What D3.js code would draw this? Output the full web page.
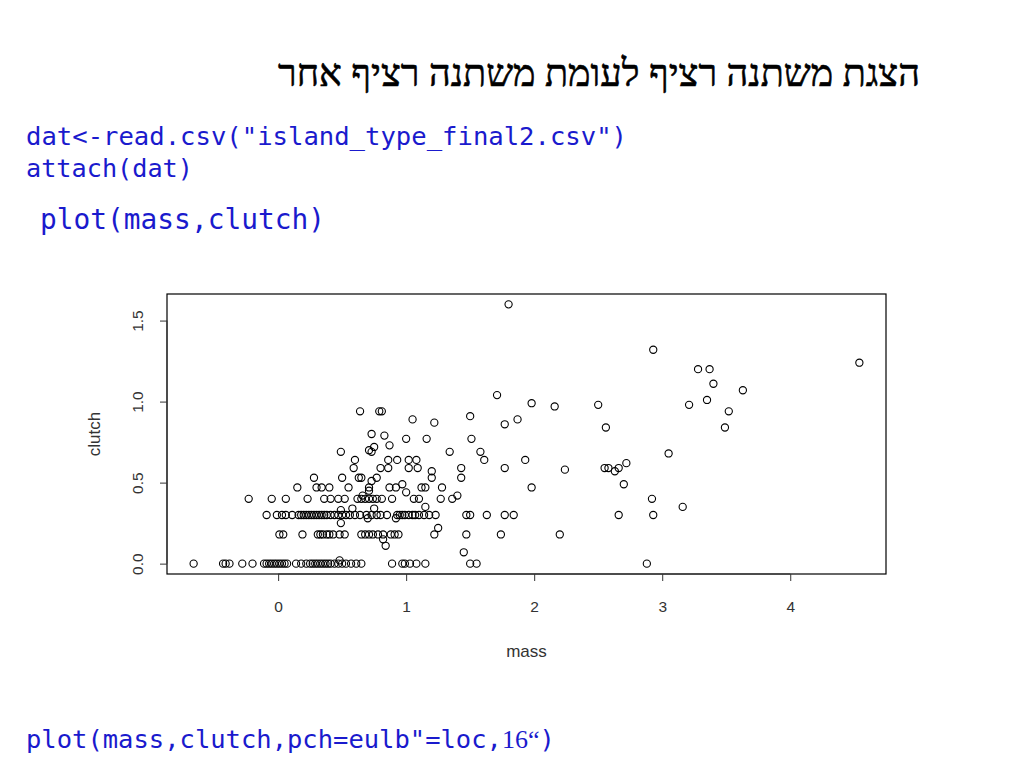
<!DOCTYPE html>
<html>
<head>
<meta charset="utf-8">
<script src="https://cdn.jsdelivr.net/npm/d3@7"></script>
<style>
  html, body { margin: 0; padding: 0; background: #ffffff; }
  svg { display: block; }
</style>
</head>
<body>
<svg id="chart" width="1024" height="768"></svg>
<script>
// ---- text ----
const titleText = "הצגת משתנה רציף לעומת משתנה רציף אחר";
const codeLines = ['dat<-read.csv("island_type_final2.csv")', 'attach(dat)'];
const plotCall = ' plot(mass,clutch)';
const bottomCallMono = 'plot(mass,clutch,pch=eulb"=loc,';
const bottomCallSerif = '16“';
const bottomCallEnd = ')';
const xLabel = "mass";
const yLabel = "clutch";
const xTicks = [0, 1, 2, 3, 4];
const yTicks = [0, 0.5, 1.0, 1.5];

// ---- data: rows of points sharing a clutch value ----
const clutchRows = [0, 0.18, 0.30, 0.40, 0.47];
const massRow0 = [-0.66, -0.43, -0.41, -0.38, -0.28, -0.20, -0.11, -0.09, -0.07, -0.05, -0.03, -0.01,
  0.01, 0.03, 0.05, 0.07, 0.14, 0.18, 0.22, 0.25, 0.27, 0.29, 0.31, 0.33, 0.35, 0.37, 0.39, 0.41,
  0.44, 0.47, 0.50, 0.53, 0.57, 0.61, 0.65, 0.89, 0.97, 0.99, 1.03, 1.08, 1.15, 1.50, 1.55, 2.88];
const massRow018 = [0.01, 0.04, 0.19, 0.31, 0.33, 0.35, 0.38, 0.40, 0.43, 0.48, 0.52, 0.65, 0.68,
  0.71, 0.74, 0.78, 0.82, 0.88, 0.91, 0.94, 1.22, 1.47, 1.74, 2.20];
const massRow030 = [-0.09, -0.01, 0.03, 0.06, 0.11, 0.16, 0.18, 0.20, 0.22, 0.24, 0.26, 0.28, 0.30,
  0.32, 0.34, 0.36, 0.38, 0.41, 0.44, 0.47, 0.50, 0.53, 0.56, 0.60, 0.64, 0.69, 0.73, 0.77, 0.80,
  0.85, 0.93, 0.95, 0.97, 0.99, 1.02, 1.05, 1.07, 1.10, 1.14, 1.18, 1.23, 1.47, 1.50, 1.63, 1.77,
  1.84, 2.66, 2.93];
const massRow040 = [-0.23, -0.05, 0.06, 0.23, 0.36, 0.41, 0.47, 0.52, 0.62, 0.65, 0.68, 0.71, 0.74,
  0.77, 0.81, 0.89, 1.06, 1.10, 1.27, 1.36, 2.92];
const massRow047 = [0.15, 0.30, 0.34, 0.40, 0.55, 0.71, 0.87, 0.92, 1.12, 1.15, 1.28, 1.98];

// ---- data: remaining scattered points ----
const otherMass = [1.40, 0.66, 0.97, 1.00, 0.71, 0.73,
  0.28, 0.50, 0.63, 0.65, 0.77, 1.20, 1.43,
  0.59, 0.80, 0.86, 1.02, 1.09, 1.20, 1.43, 1.77, 2.24, 2.55, 2.58, 2.63, 2.66, 2.72, 2.70,
  0.60, 0.86, 0.93, 1.02, 1.08, 1.61, 1.93,
  0.49, 0.71, 0.73, 0.75, 0.87, 1.34, 1.58, 3.05,
  0.73, 0.83, 1.00, 1.16, 1.51,
  0.64, 0.79, 0.81, 1.05, 1.22, 1.50, 1.77, 1.87, 2.56,
  1.71, 1.98, 2.16, 2.50, 3.21, 3.35, 3.52, 3.49,
  2.93, 3.28, 3.37, 3.40, 3.63, 4.54, 1.80,
  1.15, 1.25, 0.58, 0.49, 0.75, 0.70, 0.92, 0.49, 0.82, 0.84, 1.45, 0.48, 3.16];
const otherClutch = [0.42, 0.42, 0.49, 0.44, 0.45, 0.51,
  0.53, 0.53, 0.53, 0.53, 0.53, 0.53, 0.53,
  0.59, 0.59, 0.59, 0.59, 0.59, 0.57, 0.59, 0.59, 0.58, 0.59, 0.59, 0.57, 0.59, 0.62, 0.49,
  0.64, 0.64, 0.64, 0.64, 0.64, 0.64, 0.64,
  0.69, 0.70, 0.69, 0.72, 0.73, 0.69, 0.69, 0.68,
  0.80, 0.79, 0.77, 0.77, 0.77,
  0.94, 0.94, 0.94, 0.89, 0.87, 0.91, 0.86, 0.89, 0.84,
  1.04, 0.99, 0.97, 0.98, 0.98, 1.01, 0.94, 0.84,
  1.32, 1.20, 1.20, 1.11, 1.07, 1.24, 1.60,
  0.35, 0.22, 0.34, 0.33, 0.34, 0.28, 0.28, 0.25, 0.15, 0.11, 0.07, 0.02, 0.35];

// ---- assemble points ----
const rowMasses = [massRow0, massRow018, massRow030, massRow040, massRow047];
const points = [];
rowMasses.forEach((arr, i) => arr.forEach(m => points.push({ mass: m, clutch: clutchRows[i] })));
otherMass.forEach((m, i) => points.push({ mass: m, clutch: otherClutch[i] }));

const svg = d3.select("#chart");
const box = { left: 167, right: 886, top: 294, bottom: 574 };

// R-style 4% padded ranges
function padded(ext) { const p = (ext[1] - ext[0]) * 0.04; return [ext[0] - p, ext[1] + p]; }
const x = d3.scaleLinear().domain(padded(d3.extent(points, d => d.mass))).range([box.left, box.right]);
const y = d3.scaleLinear().domain(padded(d3.extent(points, d => d.clutch))).range([box.bottom, box.top]);

// ---- title ----
svg.append("text")
  .attr("x", 920).attr("y", 86)
  .attr("text-anchor", "end")
  .attr("font-family", "'Liberation Serif', 'DejaVu Serif', serif")
  .attr("font-size", 38)
  .attr("fill", "#000").attr("stroke", "#000").attr("stroke-width", 0.6)
  .attr("textLength", 642).attr("lengthAdjust", "spacingAndGlyphs")
  .text(titleText);

// ---- code lines ----
const blue = "#1a1acd";
const mono = "'DejaVu Sans Mono', 'Liberation Mono', monospace";
svg.append("text").attr("x", 26).attr("y", 145).attr("font-family", mono).attr("font-size", 25.5)
  .attr("fill", blue).attr("textLength", 601).attr("lengthAdjust", "spacingAndGlyphs").text(codeLines[0]);
svg.append("text").attr("x", 26).attr("y", 177).attr("font-family", mono).attr("font-size", 25.5)
  .attr("fill", blue).attr("textLength", 167).attr("lengthAdjust", "spacingAndGlyphs").text(codeLines[1]);
svg.append("text").attr("x", 40).attr("y", 229).attr("font-family", mono).attr("font-size", 27.5)
  .attr("fill", blue).attr("textLength", 285).attr("lengthAdjust", "spacingAndGlyphs").text(plotCall.trim());

const bottom = svg.append("text").attr("x", 26).attr("y", 748).attr("font-size", 25.5).attr("fill", blue);
bottom.append("tspan").attr("font-family", mono).text(bottomCallMono);
bottom.append("tspan").attr("font-family", "'Liberation Serif', serif").attr("font-size", 26).text(bottomCallSerif);
bottom.append("tspan").attr("font-family", mono).text(bottomCallEnd);

// ---- plot box ----
svg.append("rect")
  .attr("x", box.left).attr("y", box.top)
  .attr("width", box.right - box.left).attr("height", box.bottom - box.top)
  .attr("fill", "none").attr("stroke", "#000").attr("stroke-width", 1.2);

const axisFont = "'Liberation Sans', Arial, sans-serif";
const axisColor = "#333";

// x axis
const gx = svg.append("g").attr("transform", `translate(0,${box.bottom})`)
  .call(d3.axisBottom(x).tickValues(xTicks).tickSize(7).tickPadding(20).tickFormat(d3.format("d")));
gx.select(".domain").remove();
gx.selectAll("line").attr("stroke", axisColor);
gx.selectAll("text").attr("font-family", axisFont).attr("font-size", 15.5).attr("fill", axisColor);
gx.append("line").attr("x1", x(xTicks[0])).attr("x2", x(xTicks[xTicks.length - 1]))
  .attr("y1", 0).attr("y2", 0).attr("stroke", axisColor);

// y axis
const gy = svg.append("g").attr("transform", `translate(${box.left},0)`)
  .call(d3.axisLeft(y).tickValues(yTicks).tickSize(7).tickFormat(d3.format(".1f")));
gy.select(".domain").remove();
gy.selectAll("line").attr("stroke", axisColor);
gy.selectAll(".tick text")
  .attr("x", null).attr("dy", null)
  .attr("transform", "translate(-30,0) rotate(-90)")
  .attr("text-anchor", "middle")
  .attr("dominant-baseline", "central")
  .attr("font-family", axisFont).attr("font-size", 15.5).attr("fill", axisColor);
gy.append("line").attr("y1", y(yTicks[0])).attr("y2", y(yTicks[yTicks.length - 1]))
  .attr("x1", 0).attr("x2", 0).attr("stroke", axisColor);

// axis titles
svg.append("text").attr("x", (box.left + box.right) / 2).attr("y", 657)
  .attr("text-anchor", "middle").attr("font-family", axisFont).attr("font-size", 17).attr("fill", axisColor)
  .text(xLabel);
svg.append("text").attr("transform", `translate(100,${(box.top + box.bottom) / 2}) rotate(-90)`)
  .attr("text-anchor", "middle").attr("font-family", axisFont).attr("font-size", 17).attr("fill", axisColor)
  .text(yLabel);

// ---- points ----
svg.append("g").selectAll("circle").data(points).join("circle")
  .attr("cx", d => x(d.mass)).attr("cy", d => y(d.clutch))
  .attr("r", 3.6)
  .attr("fill", "none").attr("stroke", "#000").attr("stroke-width", 1.1);
</script>
</body>
</html>
